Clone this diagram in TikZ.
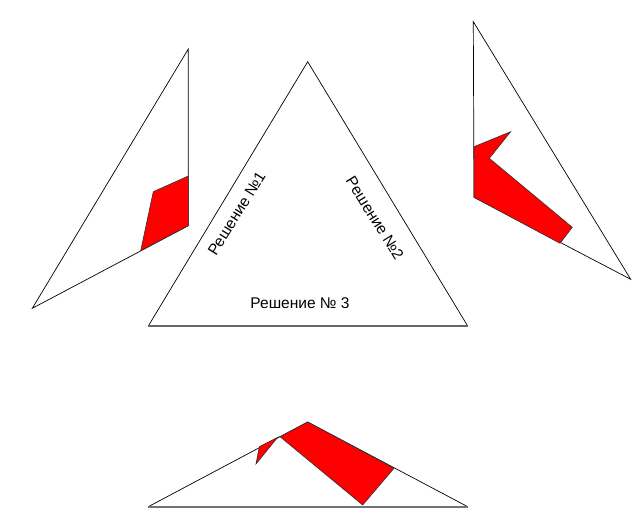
\documentclass[tikz,border=0pt]{standalone}
\usepackage{fontspec}
\setmainfont{Liberation Sans}
\usepackage{tikz}

\begin{document}
\begin{tikzpicture}[x=1pt,y=1pt,yscale=-1]
	\tikzset{piece/.style={draw=black,line width=0.7},
		cut/.style={fill={rgb,255:red,255;green,0;blue,0},draw=black!80,line width=0.6},
		label/.style={inner sep=0.75pt,font=\fontsize{15.5}{18}\selectfont}}
	\useasboundingbox (0,0) rectangle (643,531);
	
	%Shape: Triangle [id:left]
	\draw [piece]   (188.3,49) -- (188.3,225.7) -- (32.3,308.3) -- cycle ;
	%Shape: Polygon [id:left cut]
	\draw [cut]   (188.3,176) -- (153.3,191.7) -- (140.7,250.7) -- (188.3,225.7) -- cycle ;
	
	%Shape: Triangle [id:right]
	\draw [piece]   (473.3,21.7) -- (630.7,279.3) -- (474,197.3) -- cycle ;
	%Shape: Polygon [id:right cut]
	\draw [cut]   (474,146.7) -- (510.7,131.7) -- (489.3,158.3) -- (572.3,227.3) -- (560,243.3) -- (474,197.3) -- cycle ;
	
	%Shape: Triangle [id:middle]
	\draw [piece]   (148.3,326) -- (307.7,61.7) -- (467.7,326) ;
	\draw [color=black!60,line width=1.2]   (148.3,326) -- (467.7,326) ;
	
	%Shape: Triangle [id:bottom]
	\draw [piece]   (148.3,506.7) -- (307.7,422) -- (467.7,506.7) ;
	\draw [color=black!55,line width=1.6]   (148.3,506.7) -- (467.7,506.7) ;
	%Shape: Polygon [id:bottom cut big]
	\draw [cut]   (280,436.7) -- (307.7,422) -- (394,468.3) -- (362.7,505) -- cycle ;
	%Shape: Polygon [id:bottom cut small]
	\draw [cut]   (259.3,446.7) -- (277.7,437.3) -- (256,464) -- cycle ;
	
	% Text Node
	\node (sol1) [label,rotate=58] at (236.7,213.3) {Решение №1};
	% Text Node
	\node (sol2) [label,rotate=-58] at (375,218.3) {Решение №2};
	% Text Node
	\node (sol3) [label] at (300,303.3) {Решение № 3};
	
\end{tikzpicture}
\end{document}
